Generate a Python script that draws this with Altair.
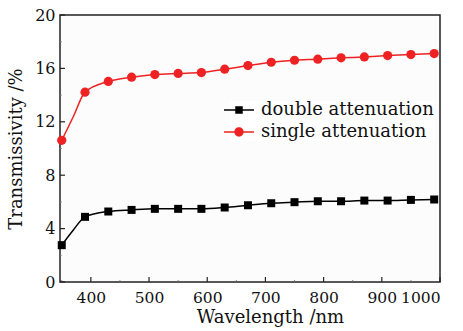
import altair as alt
import pandas as pd

# ---- data ----
wavelength = [350, 370, 390, 430, 470, 510, 550, 590, 630, 670, 710, 750, 790, 830, 870, 910, 950, 990]
single_att = [10.61, 12.4, 14.22, 15.02, 15.34, 15.54, 15.62, 15.69, 15.94, 16.21, 16.46, 16.61, 16.69, 16.79, 16.86, 16.96, 17.04, 17.11]
double_att = [2.76, 3.9, 4.88, 5.28, 5.40, 5.48, 5.48, 5.48, 5.58, 5.75, 5.90, 5.98, 6.05, 6.05, 6.10, 6.10, 6.15, 6.18]
marker_flag = [True, False] + [True] * 16

series_names = ["double attenuation", "single attenuation"]
series_colors = ["#000000", "#ee2222"]

x_major = [400, 500, 600, 700, 800, 900, 1000]
x_minor = [350, 450, 550, 650, 750, 850, 950]
y_major = [0, 4, 8, 12, 16, 20]
y_minor = [2, 6, 10, 14, 18]

FONT = "DejaVu Serif"
W, H = 380, 267

df = pd.DataFrame({"wl": wavelength, "single": single_att, "double": double_att, "marker": marker_flag})
mk = df[df["marker"]]

xs = alt.Scale(domain=[347, 1000], nice=False, zero=False)
ys = alt.Scale(domain=[0, 20], nice=False)

xaxis = alt.Axis(values=x_major, format="d", labelOverlap=False, labelFlush=True, ticks=False,
                 domain=False, grid=False, labelFont=FONT, labelFontSize=15.5, labelColor="#111",
                 labelPadding=8, title="Wavelength /nm", titleFont=FONT, titleFontSize=18,
                 titleFontWeight="normal", titleColor="#111", titlePadding=3, titleX=210)
yaxis = alt.Axis(values=y_major, format="d", labelOverlap=False, labelFlush=False, ticks=False,
                 domain=False, grid=False, labelFont=FONT, labelFontSize=16, labelColor="#111",
                 labelPadding=5, title="Transmissivity /%", titleFont=FONT, titleFontSize=18,
                 titleFontWeight="normal", titleColor="#111", titlePadding=9)

base = alt.Chart(df)

black_line = base.mark_line(color=series_colors[0], strokeWidth=1.5, interpolate="monotone").encode(
    x=alt.X("wl:Q", scale=xs, axis=xaxis), y=alt.Y("double:Q", scale=ys, axis=yaxis))
red_line = base.mark_line(color=series_colors[1], strokeWidth=1.5, interpolate="monotone").encode(
    x=alt.X("wl:Q", scale=xs), y=alt.Y("single:Q", scale=ys))
black_pts = alt.Chart(mk).mark_point(shape="square", filled=True, opacity=1, size=64,
                                     color=series_colors[0]).encode(
    x=alt.X("wl:Q", scale=xs), y=alt.Y("double:Q", scale=ys))
red_pts = alt.Chart(mk).mark_point(shape="circle", filled=True, opacity=1, size=85,
                                   color=series_colors[1]).encode(
    x=alt.X("wl:Q", scale=xs), y=alt.Y("single:Q", scale=ys))

# inward ticks
xt_major = alt.Chart(pd.DataFrame({"t": x_major})).mark_rule(color="#222", strokeWidth=1.2).encode(
    x=alt.X("t:Q", scale=xs), y=alt.value(H), y2=alt.value(H - 5))
xt_minor = alt.Chart(pd.DataFrame({"t": x_minor})).mark_rule(color="#666", strokeWidth=0.8).encode(
    x=alt.X("t:Q", scale=xs), y=alt.value(H), y2=alt.value(H - 2))
yt_major = alt.Chart(pd.DataFrame({"t": y_major})).mark_rule(color="#222", strokeWidth=1.2).encode(
    y=alt.Y("t:Q", scale=ys), x=alt.value(0), x2=alt.value(5))
yt_minor = alt.Chart(pd.DataFrame({"t": y_minor})).mark_rule(color="#888", strokeWidth=0.8).encode(
    y=alt.Y("t:Q", scale=ys), x=alt.value(0), x2=alt.value(2))

# legend carrier layer (no data drawn, explicit domain)
sq_path = "M-2,-0.09H2V0.09H-2Z M-0.5,-0.5H0.5V0.5H-0.5Z"
ci_path = "M-2,-0.09H2V0.09H-2Z M-0.62,0A0.62,0.62 0 1,1 0.62,0A0.62,0.62 0 1,1 -0.62,0Z"
leg_df = pd.DataFrame({"series": series_names, "v": [0, 0]})
legend_layer = alt.Chart(leg_df).transform_filter("false").mark_point(filled=True, opacity=1, size=225).encode(
    x=alt.X("v:Q", scale=xs), y=alt.Y("v:Q", scale=ys),
    color=alt.Color("series:N", scale=alt.Scale(domain=series_names, range=series_colors),
                    legend=alt.Legend(title=None, orient="none", legendX=170, legendY=86,
                                      labelFont=FONT, labelFontSize=18, labelColor="#111",
                                      labelLimit=400, labelOffset=13, rowPadding=4, padding=0,
                                      symbolSize=225, symbolStrokeWidth=0, fillColor="white")),
    shape=alt.Shape("series:N", scale=alt.Scale(domain=series_names, range=[sq_path, ci_path])),
)

chart = alt.layer(xt_minor, xt_major, yt_minor, yt_major, black_line, red_line, black_pts, red_pts,
                  legend_layer).properties(
    width=W, height=H, background="white",
    autosize=alt.AutoSizeParams(type="none"),
    padding={"left": 60, "top": 15, "right": 23, "bottom": 48},
).configure_view(stroke="#222", strokeWidth=1.5, fill="#fcfcfc")

chart.save("out.html", embed_options={"renderer": "svg", "actions": False})
